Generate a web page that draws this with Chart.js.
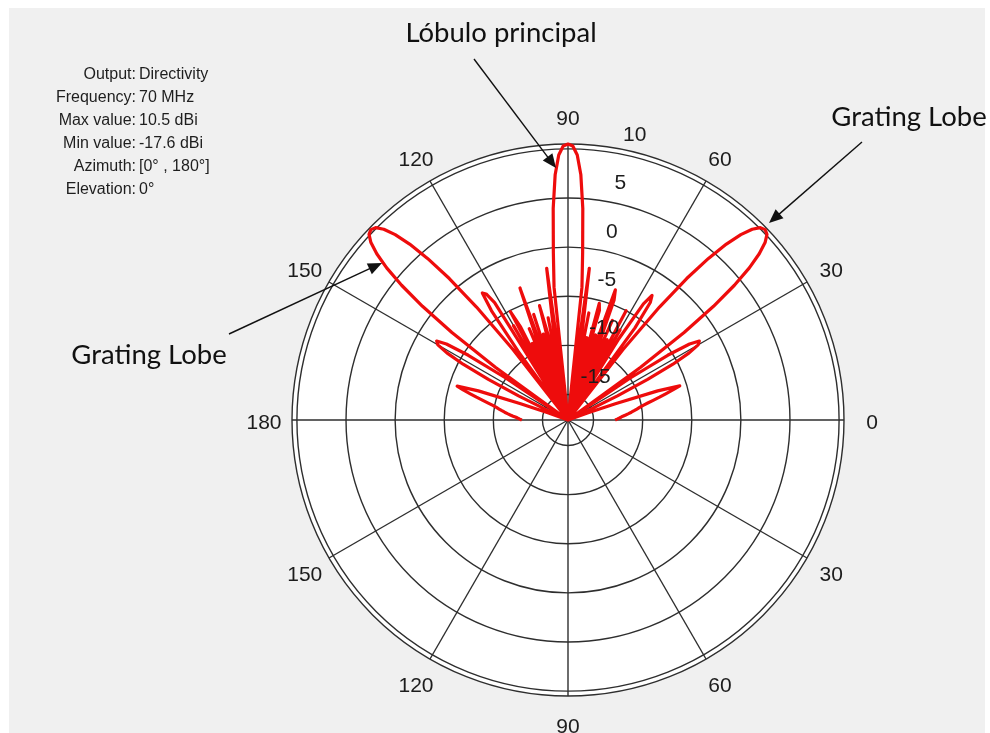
<!DOCTYPE html>
<html>
<head>
<meta charset="utf-8">
<script src="https://cdn.jsdelivr.net/npm/chart.js@4.4.0/dist/chart.umd.min.js"></script>
<style>
  html, body { margin: 0; padding: 0; background: #ffffff; }
  #wrap { position: relative; width: 990px; height: 733px; }
  canvas { display: block; }
</style>
</head>
<body>
<div id="wrap"><canvas id="chart"></canvas></div>
<script>
// ---------------- DATA ----------------
// Directivity (dBi), azimuth 0..180 deg in 1 deg steps
const azimuthFirstDeg = 0;
const directivityDbi = [
  -12.8, -12.6, -12.4, -12.2, -12.0, -11.7, -11.4, -11.1, -10.8, -10.5,   // 0-9
  -10.2,  -9.8,  -9.3,  -8.7,  -8.0,  -7.3,  -6.5,  -5.7,  -8.0, -12.5,   // 10-19
  -15.5, -17.6, -17.6, -17.6, -17.6, -16.0, -12.0,  -8.5,  -5.5,  -3.5,   // 20-29
   -2.3,  -2.0,  -3.0,  -5.5, -10.0, -17.6,  -8.5,  -2.8,   1.2,   4.2,   // 30-39
    6.5,   8.2,   9.4,  10.1,  10.3,  10.1,   9.4,   8.2,   6.5,   4.2,   // 40-49
    1.2,  -2.8,  -8.5, -17.6,  -6.0,  -3.0,  -2.3,  -3.5,  -8.0, -17.6,   // 50-59
   -7.0, -17.6,  -5.0, -17.6,  -8.5, -17.6,  -6.5, -17.6,  -9.0,  -4.5,   // 60-69
   -3.5, -17.6,  -8.5, -17.6,  -6.0,  -5.3, -17.6,  -9.0, -17.6,  -6.5,   // 70-79
  -17.6,  -8.0,  -2.0, -17.6,  -4.0,  -0.5,   4.0,   7.4,   9.4,  10.3,   // 80-89
   10.5,                                                                  // 90
   10.3,   9.4,   7.4,   4.0,  -0.5,  -4.0, -17.6,  -2.0,  -8.0, -17.6,   // 91-100
   -7.0, -17.6,  -9.0,  -5.6, -17.6,  -8.5, -17.6,  -6.3, -17.6,  -3.3,   // 101-110
   -8.5, -17.6,  -7.5, -17.6,  -9.0, -17.6,  -7.0,  -5.1, -17.6,  -6.5,   // 111-120
  -17.6,  -3.5,  -2.3,  -2.0,  -4.0,  -9.0, -17.6,  -8.5,  -2.8,   1.2,   // 121-130
    4.2,   6.5,   8.2,   9.4,  10.1,  10.3,  10.1,   9.4,   8.2,   6.5,   // 131-140
    4.2,   1.2,  -2.8,  -8.5, -17.6, -10.0,  -5.5,  -3.0,  -2.0,  -2.3,   // 141-150
   -3.5,  -5.5,  -8.5, -12.0, -16.0, -17.6, -17.6, -17.6, -17.6, -15.5,   // 151-160
  -12.5,  -8.0,  -5.8,  -6.5,  -7.3,  -8.0,  -8.7,  -9.3,  -9.8, -10.2,   // 161-170
  -10.5, -10.8, -11.1, -11.4, -11.7, -12.0, -12.3, -12.5, -12.7, -12.9    // 171-180
];
const radialMin = -17.6;
const radialMax = 10.5;
const radialTicks = [-15, -10, -5, 0, 5, 10];
const angleTickAzimuths = [0, 30, 60, 90, 120, 150, 180, 210, 240, 270, 300, 330];
const angleTickLabels  = ['0', '30', '60', '90', '120', '150', '180', '150', '120', '90', '60', '30'];
const infoKeys   = ['Output', 'Frequency', 'Max value', 'Min value', 'Azimuth', 'Elevation'];
const infoValues = ['Directivity', '70 MHz', '10.5 dBi', '-17.6 dBi', '[0\u00b0 , 180\u00b0]', '0\u00b0'];
const mainLobeText = 'L\u00f3bulo principal';
const gratingLobeText = 'Grating Lobe';

// --------------- build radar table (1 deg per category, full circle) ---------------
const labels = [];
const values = [];
for (let i = 0; i < 360; i++) {
  const az = ((180 - i) % 360 + 360) % 360;   // index 0 = 180 deg (left), runs clockwise
  labels.push(az + '\u00b0');
  const k = az - azimuthFirstDeg;
  values.push(k >= 0 && k < directivityDbi.length ? directivityDbi[k] : null);
}
function indexForAzimuth(az) { return ((180 - az) % 360 + 360) % 360; }

const GRID = '#2e2e2e';

function arrow(ctx, x1, y1, x2, y2) {
  const a = Math.atan2(y2 - y1, x2 - x1);
  const L = 14, W = 6;
  ctx.beginPath();
  ctx.moveTo(x1, y1);
  ctx.lineTo(x2 - Math.cos(a) * L * 0.8, y2 - Math.sin(a) * L * 0.8);
  ctx.stroke();
  ctx.beginPath();
  ctx.moveTo(x2, y2);
  ctx.lineTo(x2 - Math.cos(a) * L + Math.sin(a) * W, y2 - Math.sin(a) * L - Math.cos(a) * W);
  ctx.lineTo(x2 - Math.cos(a) * L - Math.sin(a) * W, y2 - Math.sin(a) * L + Math.cos(a) * W);
  ctx.closePath();
  ctx.fill();
}

const decor = {
  id: 'decor',
  beforeDraw(chart) {
    const ctx = chart.ctx, s = chart.scales.r;
    ctx.save();
    ctx.fillStyle = '#ffffff';
    ctx.fillRect(0, 0, chart.width, chart.height);
    ctx.fillStyle = '#f0f0f0';
    ctx.fillRect(9, 8, chart.width - 14, chart.height - 8);
    ctx.beginPath();
    ctx.arc(s.xCenter, s.yCenter, s.drawingArea, 0, Math.PI * 2);
    ctx.fillStyle = '#ffffff';
    ctx.fill();
    ctx.restore();
  },
  afterDatasetsDraw(chart) {
    const ctx = chart.ctx, s = chart.scales.r;
    ctx.save();
    // angle labels
    ctx.fillStyle = '#1c1c1c';
    ctx.font = '21px "Liberation Sans", Arial, sans-serif';
    ctx.textAlign = 'center';
    ctx.textBaseline = 'middle';
    angleTickAzimuths.forEach((az, j) => {
      const p = s.getPointPosition(indexForAzimuth(az), s.drawingArea + 28);
      ctx.fillText(angleTickLabels[j], p.x, p.y + 3);
    });
    // radial tick labels
    ctx.textAlign = 'left';
    radialTicks.forEach(v => {
      const p = s.getPointPosition(indexForAzimuth(80), s.getDistanceFromCenterForValue(v));
      ctx.fillText(String(v), p.x + 8, p.y - 18);
    });
    // info block
    ctx.font = '16px "Liberation Sans", Arial, sans-serif';
    ctx.fillStyle = '#1e1e1e';
    infoKeys.forEach((k, j) => {
      const y = 75 + j * 23;
      ctx.textAlign = 'right';
      ctx.fillText(k + ':', 136, y);
      ctx.textAlign = 'left';
      ctx.fillText(infoValues[j], 139, y);
    });
    // annotations
    ctx.font = '27.5px Lato, "Open Sans", sans-serif';
    ctx.fillStyle = '#111111';
    ctx.textAlign = 'center';
    ctx.fillText(mainLobeText, 501, 33);
    ctx.fillText(gratingLobeText, 909, 117);
    ctx.fillText(gratingLobeText, 149, 355);
    ctx.strokeStyle = '#111111';
    ctx.lineWidth = 1.4;
    arrow(ctx, 474, 59, 556, 168);
    arrow(ctx, 862, 142, 769, 223);
    arrow(ctx, 229, 334, 382, 263);
    ctx.restore();
  }
};

new Chart(document.getElementById('chart'), {
  type: 'radar',
  data: {
    labels: labels,
    datasets: [{
      label: 'Directivity',
      data: values,
      borderColor: 'rgb(238,12,12)',
      borderWidth: 3.2,
      borderJoinStyle: 'round',
      pointRadius: 0,
      fill: false,
      tension: 0,
      spanGaps: false
    }]
  },
  options: {
    responsive: true,
    maintainAspectRatio: false,
    animation: false,
    events: [],
    layout: { padding: { left: 292, right: 146, top: 144, bottom: 37 } },
    plugins: { legend: { display: false }, tooltip: { enabled: false } },
    scales: {
      r: {
        min: radialMin,
        max: radialMax,
        startAngle: -90,
        afterBuildTicks: (scale) => {
          scale.ticks = radialTicks.concat([radialMax]).map(v => ({ value: v }));
        },
        ticks: { display: false },
        pointLabels: { display: false },
        grid: { circular: true, color: GRID, lineWidth: 1.4 },
        angleLines: {
          display: true,
          color: GRID,
          lineWidth: (c) => (c.index % 30 === 0 ? 1.4 : 0)
        }
      }
    }
  },
  plugins: [decor]
});
</script>
</body>
</html>
